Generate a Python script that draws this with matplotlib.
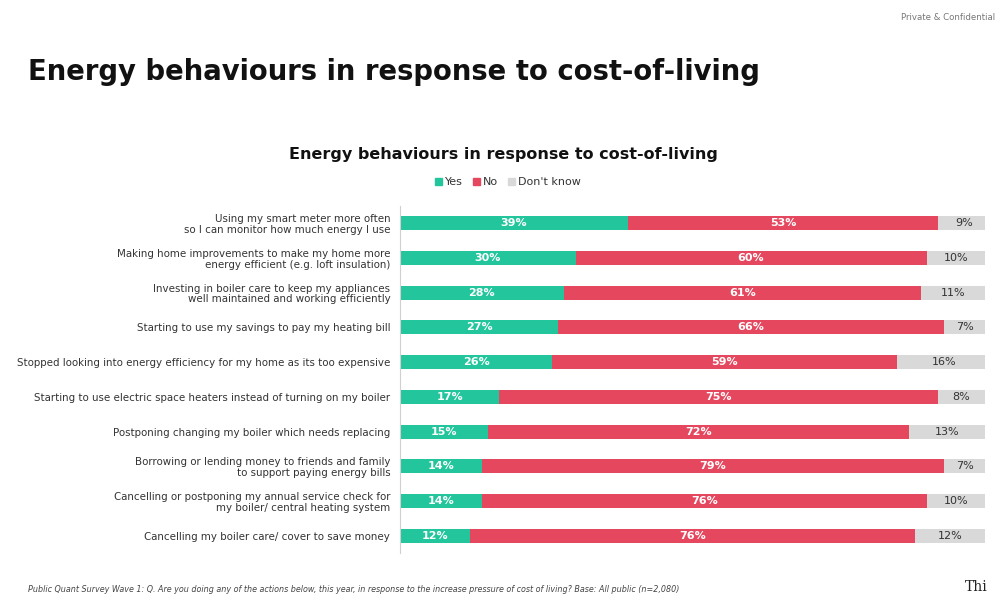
import matplotlib
matplotlib.use("Agg")
import matplotlib.pyplot as plt
from matplotlib.patches import Patch

categories = [
    "Using my smart meter more often\nso I can monitor how much energy I use",
    "Making home improvements to make my home more\nenergy efficient (e.g. loft insulation)",
    "Investing in boiler care to keep my appliances\nwell maintained and working efficiently",
    "Starting to use my savings to pay my heating bill",
    "Stopped looking into energy efficiency for my home as its too expensive",
    "Starting to use electric space heaters instead of turning on my boiler",
    "Postponing changing my boiler which needs replacing",
    "Borrowing or lending money to friends and family\nto support paying energy bills",
    "Cancelling or postponing my annual service check for\nmy boiler/ central heating system",
    "Cancelling my boiler care/ cover to save money",
]
yes = [39, 30, 28, 27, 26, 17, 15, 14, 14, 12]
no = [53, 60, 61, 66, 59, 75, 72, 79, 76, 76]
dont_know = [9, 10, 11, 7, 16, 8, 13, 7, 10, 12]
series_names = ["Yes", "No", "Don't know"]

c_yes = "#22C59C"
c_no = "#E5485E"
c_dk = "#D9D9D9"

fig = plt.figure(figsize=(10.02, 5.95), dpi=100)
fig.patch.set_facecolor("white")

ax = fig.add_axes([400/1002, 1-553.4/595, 585/1002, 347.8/595])
y = list(range(len(categories)))
h = 0.40
ax.barh(y, yes, height=h, color=c_yes)
left_no = yes
ax.barh(y, no, left=left_no, height=h, color=c_no)
left_dk = [a + b for a, b in zip(yes, no)]
ax.barh(y, dont_know, left=left_dk, height=h, color=c_dk)

for i in y:
    ax.text(yes[i]/2, i, f"{yes[i]}%", ha="center", va="center", color="white",
            fontsize=8, fontweight="bold")
    ax.text(yes[i] + no[i]/2, i, f"{no[i]}%", ha="center", va="center", color="white",
            fontsize=8, fontweight="bold")
    ax.text(left_dk[i] + dont_know[i]/2, i, f"{dont_know[i]}%", ha="center", va="center",
            color="#333333", fontsize=8)

ax.set_xlim(0, 100)
ax.set_ylim(len(categories) - 0.5, -0.5)
ax.set_yticks(y)
ax.set_yticklabels(categories, fontsize=7.4, color="#333333", linespacing=1.1)
ax.tick_params(axis="y", length=0, pad=7)
ax.set_xticks([])
for s in ["top", "right", "bottom"]:
    ax.spines[s].set_visible(False)
ax.spines["left"].set_color("#D0D0D0")
ax.spines["left"].set_linewidth(0.8)

fig.text(28/1002, 1-72/595, "Energy behaviours in response to cost-of-living",
         fontsize=19.8, fontweight="bold", color="#111111", ha="left", va="center")
fig.text(503/1002, 1-155/595, "Energy behaviours in response to cost-of-living",
         fontsize=11.5, fontweight="bold", color="#111111", ha="center", va="center")

handles = [Patch(color=c_yes), Patch(color=c_no), Patch(color=c_dk)]
fig.legend(handles, series_names, loc="center", bbox_to_anchor=(508/1002, 1-182/595),
           ncol=3, frameon=False, fontsize=8, handlelength=0.6, handleheight=0.6,
           handletextpad=0.3, columnspacing=0.9, labelcolor="#333333")

fig.text(995/1002, 1-17/595, "Private & Confidential", fontsize=6.2, color="#777777",
         ha="right", va="center")
fig.text(28/1002, 1-589/595,
         "Public Quant Survey Wave 1: Q. Are you doing any of the actions below, this year, in response to the increase pressure of cost of living? Base: All public (n=2,080)",
         fontsize=5.8, style="italic", color="#444444", ha="left", va="center")
fig.text(965/1002, 1/595, "Thi", fontsize=10, family="DejaVu Serif", color="#222222",
         ha="left", va="bottom")

fig.savefig("out.png", dpi=100)
